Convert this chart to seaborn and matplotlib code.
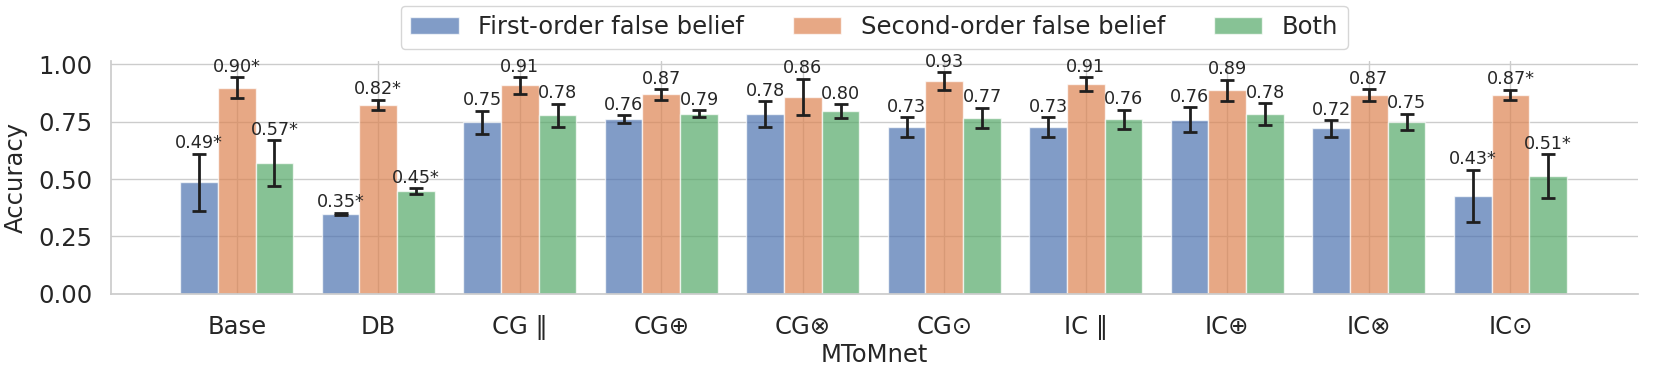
import numpy as np
import pandas as pd
import seaborn as sns
import matplotlib.pyplot as plt

# Models (x categories) and belief types (hue)
models = ["Base", "DB", "CG \u2016", "CG\u2295", "CG\u2297", "CG\u2299",
          "IC \u2016", "IC\u2295", "IC\u2297", "IC\u2299"]
types = ["First-order false belief", "Second-order false belief", "Both"]

# mean accuracy per model
first_order = [0.486, 0.348, 0.748, 0.760, 0.782, 0.726, 0.726, 0.758, 0.720, 0.426]
second_order = [0.898, 0.822, 0.908, 0.868, 0.858, 0.926, 0.912, 0.886, 0.866, 0.866]
both = [0.568, 0.447, 0.778, 0.785, 0.795, 0.766, 0.760, 0.782, 0.750, 0.512]

# error bar half-widths
first_err = [0.124, 0.005, 0.050, 0.018, 0.057, 0.044, 0.044, 0.054, 0.037, 0.115]
second_err = [0.045, 0.023, 0.036, 0.023, 0.078, 0.038, 0.030, 0.047, 0.026, 0.022]
both_err = [0.100, 0.012, 0.050, 0.015, 0.030, 0.044, 0.042, 0.047, 0.035, 0.095]

# significance marks
first_sig = [True, True, False, False, False, False, False, False, False, True]
second_sig = [True, True, False, False, False, False, False, False, False, True]
both_sig = [True, True, False, False, False, False, False, False, False, True]

df = pd.DataFrame({
    "MToMnet": models * 3,
    "Accuracy": first_order + second_order + both,
    "type": np.repeat(types, len(models)),
})
errs = [first_err, second_err, both_err]
sigs = [first_sig, second_sig, both_sig]
means = [first_order, second_order, both]

sns.set_theme(style="whitegrid")
plt.rcParams["font.family"] = ["DejaVu Sans"]

fig, ax = plt.subplots(figsize=(16.61, 3.66), dpi=100)
sns.barplot(data=df, x="MToMnet", y="Accuracy", hue="type", errorbar=None,
            palette="deep", saturation=1, alpha=0.7, ax=ax)
ax.xaxis.grid(True)  # reference keeps vertical grid lines at categories

# error bars and value labels, placed on the bars seaborn drew
for cont, err, sig, vals in zip(ax.containers, errs, sigs, means):
    xs = [p.get_x() + p.get_width() / 2 for p in cont.patches]
    ax.errorbar(xs, vals, yerr=err, fmt="none", ecolor="#1f1f1f",
                elinewidth=2, capsize=5, capthick=2, zorder=5)
    for x, v, e, s in zip(xs, vals, err, sig):
        label = f"{v:.2f}" + ("*" if s else "")
        ax.annotate(label, (x, v + e), xytext=(0, 1), textcoords="offset points",
                    ha="center", va="bottom", fontsize=12.7, color=".15")

ax.set_xlim(-0.89, 9.9)
ax.set_ylim(0, 1.013)
ax.set_yticks([0, 0.25, 0.5, 0.75, 1.0])
ax.set_yticklabels(["0.00", "0.25", "0.50", "0.75", "1.00"])
ax.tick_params(labelsize=17.5, length=0)
ax.tick_params(axis="x", pad=15)
ax.tick_params(axis="y", pad=13)
ax.set_xlabel("MToMnet", fontsize=17.5, labelpad=2)
ax.set_ylabel("Accuracy", fontsize=17.5, labelpad=8)
sns.despine(ax=ax)

ax.legend(loc="lower center", bbox_to_anchor=(0.5, 1.0), ncol=3,
          fontsize=17.5, frameon=True)

fig.subplots_adjust(left=0.0667, right=0.986, bottom=0.197, top=0.833)
fig.savefig("out.png", dpi=100)
